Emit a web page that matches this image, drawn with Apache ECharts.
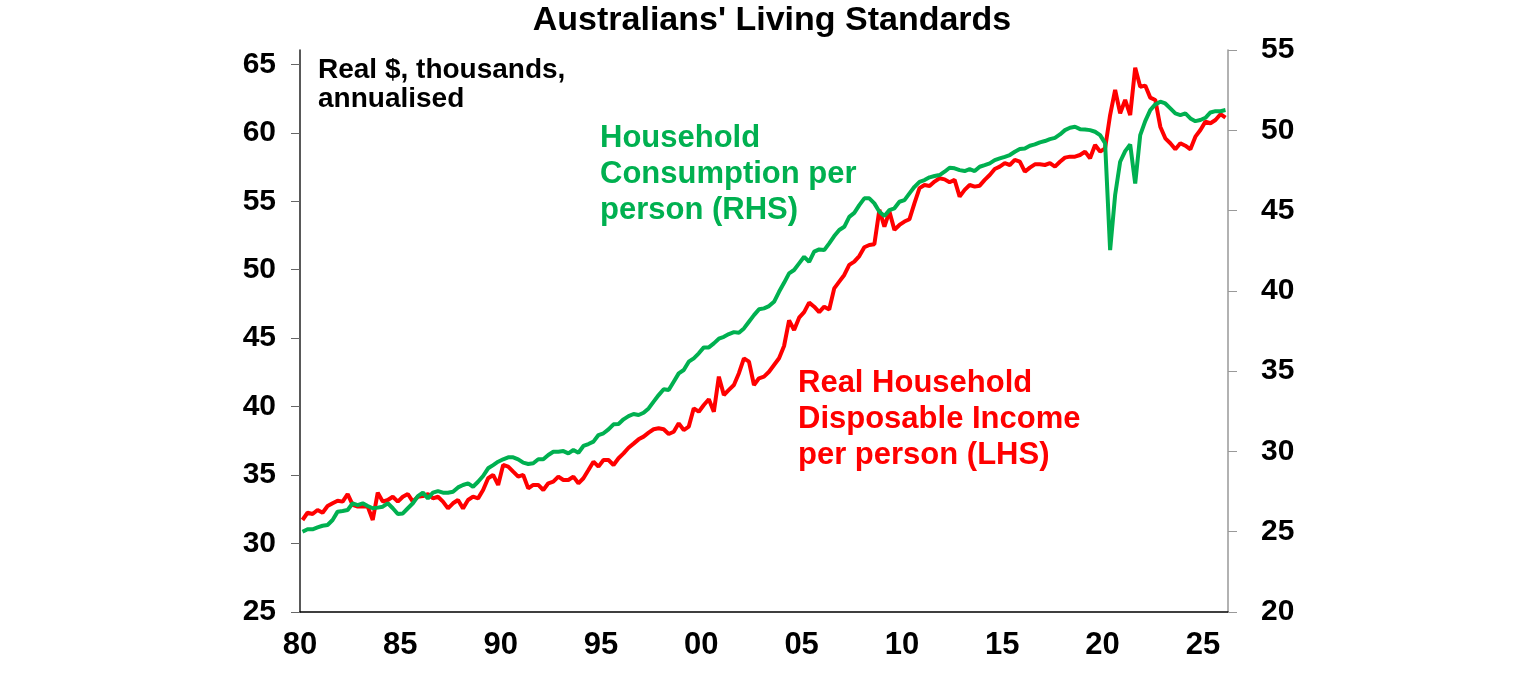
<!DOCTYPE html>
<html>
<head>
<meta charset="utf-8">
<script src="https://cdn.jsdelivr.net/npm/echarts@6/dist/echarts.min.js"></script>
<style>
  html, body { margin: 0; padding: 0; background: #fff; }
  #myCharts { width: 1536px; height: 680px; }
</style>
</head>
<body>
<div id="myCharts"></div>
<script>
// quarterly, first quarter of 1980 onwards
const startYear = 1980.125;
// Real household disposable income per person, $000 (LHS)
const income = [
  31.72, 32.25, 32.16, 32.45, 32.25, 32.74, 32.94, 33.13, 33.06, 33.62, 32.82, 32.70, 32.70, 32.70, 31.72, 33.72,
  33.06, 33.18, 33.42, 33.06, 33.42, 33.62, 33.06, 33.42, 33.47, 33.62, 33.30, 33.42, 33.06, 32.57, 32.94, 33.18,
  32.57, 33.18, 33.43, 33.30, 33.91, 34.77, 35.01, 34.28, 35.74, 35.62, 35.25, 34.89, 35.01, 34.03, 34.28, 34.28,
  33.91, 34.40, 34.52, 34.89, 34.64, 34.64, 34.89, 34.40, 34.77, 35.37, 35.98, 35.62, 36.10, 36.10, 35.74, 36.23,
  36.59, 37.00, 37.30, 37.61, 37.81, 38.10, 38.35, 38.42, 38.35, 38.00, 38.17, 38.78, 38.29, 38.54, 39.88, 39.63,
  40.12, 40.54, 39.63, 42.19, 40.85, 41.22, 41.58, 42.44, 43.53, 43.29, 41.58, 42.07, 42.19, 42.55, 43.04, 43.53,
  44.43, 46.30, 45.60, 46.50, 46.90, 47.60, 47.30, 46.90, 47.30, 47.10, 48.64, 49.13, 49.62, 50.35, 50.59, 51.00,
  51.64, 51.81, 51.86, 54.37, 53.15, 54.25, 52.91, 53.27, 53.52, 53.69, 54.86, 55.96, 56.19, 56.12, 56.44, 56.68,
  56.60, 56.39, 56.56, 55.34, 55.83, 56.19, 56.07, 56.14, 56.56, 56.92, 57.36, 57.53, 57.78, 57.65, 58.02, 57.89,
  57.16, 57.46, 57.70, 57.70, 57.65, 57.78, 57.53, 57.89, 58.19, 58.26, 58.26, 58.38, 58.63, 58.14, 59.11, 58.63,
  58.87, 61.30, 63.13, 61.43, 62.40, 61.30, 64.76, 63.37, 63.45, 62.57, 62.40, 60.45, 59.60, 59.24, 58.80, 59.24,
  59.06, 58.80, 59.72, 60.21, 60.82, 60.70, 60.94, 61.36, 61.11
];
// Household consumption per person, $000 (RHS)
const consumption = [
  25.00, 25.15, 25.15, 25.27, 25.37, 25.42, 25.73, 26.25, 26.29, 26.35, 26.77, 26.66, 26.77, 26.60, 26.46, 26.50,
  26.56, 26.77, 26.46, 26.10, 26.14, 26.46, 26.77, 27.22, 27.43, 27.08, 27.43, 27.53, 27.43, 27.43, 27.49, 27.76,
  27.91, 28.01, 27.80, 28.11, 28.47, 28.95, 29.15, 29.36, 29.51, 29.63, 29.63, 29.51, 29.30, 29.22, 29.26, 29.51,
  29.51, 29.78, 29.98, 29.98, 30.02, 29.88, 30.09, 29.92, 30.34, 30.46, 30.61, 31.02, 31.13, 31.37, 31.69, 31.71,
  32.00, 32.20, 32.33, 32.27, 32.41, 32.68, 33.10, 33.51, 33.87, 33.82, 34.34, 34.86, 35.07, 35.59, 35.80, 36.11,
  36.48, 36.48, 36.73, 37.02, 37.14, 37.31, 37.43, 37.39, 37.66, 38.08, 38.49, 38.85, 38.91, 39.05, 39.32, 39.94,
  40.50, 41.09, 41.30, 41.71, 42.12, 41.81, 42.44, 42.58, 42.54, 42.96, 43.41, 43.79, 43.99, 44.61, 44.86, 45.34,
  45.76, 45.76, 45.45, 44.93, 44.66, 45.03, 45.14, 45.55, 45.65, 46.07, 46.48, 46.79, 46.90, 47.07, 47.15, 47.21,
  47.42, 47.67, 47.63, 47.52, 47.46, 47.58, 47.46, 47.73, 47.83, 47.94, 48.14, 48.25, 48.35, 48.46, 48.66, 48.83,
  48.87, 49.04, 49.12, 49.25, 49.33, 49.45, 49.53, 49.74, 50.01, 50.16, 50.22, 50.07, 50.05, 50.01, 49.91, 49.70,
  49.20, 42.54, 45.97, 48.04, 48.70, 49.12, 46.69, 49.70, 50.57, 51.26, 51.61, 51.78, 51.67, 51.36, 51.05, 50.95,
  51.05, 50.74, 50.57, 50.64, 50.78, 51.11, 51.19, 51.19, 51.26
];
const xTicks = [1980, 1985, 1990, 1995, 2000, 2005, 2010, 2015, 2020, 2025];
const leftTicks = [25, 30, 35, 40, 45, 50, 55, 60, 65];
const rightTicks = [20, 25, 30, 35, 40, 45, 50, 55];

const font = "'Liberation Sans', Arial, sans-serif";
const toPairs = arr => arr.map((v, i) => [startYear + i * 0.25, v]);

const labelStyle = {
  fontFamily: font,
  fontSize: 30,
  fontWeight: "bold",
  color: "#000",
};

let option = {
  animation: false,
  backgroundColor: "#fff",
  grid: { left: 300, right: 308, top: 50, bottom: 68 },
  xAxis: {
    type: "value",
    min: 1980,
    max: 2026.25,
    splitLine: { show: false },
    axisTick: { show: false },
    axisLine: { lineStyle: { color: "#000", width: 1.5 } },
    axisLabel: {
      ...labelStyle,
      fontSize: 31,
      margin: 18,
      customValues: xTicks,
      formatter: v => String(v % 100).padStart(2, "0"),
    },
  },
  yAxis: [
    {
      type: "value",
      position: "left",
      min: 25,
      max: 66.05,
      splitLine: { show: false },
      axisLine: { show: true, lineStyle: { color: "#222", width: 1.5 } },
      axisTick: { show: true, length: 9, customValues: leftTicks, lineStyle: { color: "#666" } },
      axisLabel: { ...labelStyle, margin: 24, customValues: leftTicks },
    },
    {
      type: "value",
      position: "right",
      min: 20,
      max: 55,
      interval: 5,
      splitLine: { show: false },
      axisLine: { show: true, lineStyle: { color: "#999", width: 1.5 } },
      axisTick: { show: true, length: 9, customValues: rightTicks, lineStyle: { color: "#999" } },
      axisLabel: { ...labelStyle, margin: 33, customValues: rightTicks },
    },
  ],
  series: [
    {
      name: "Real Household Disposable Income per person (LHS)",
      type: "line",
      yAxisIndex: 0,
      showSymbol: false,
      lineStyle: { color: "#FF0000", width: 4 },
      data: toPairs(income),
    },
    {
      name: "Household Consumption per person (RHS)",
      type: "line",
      yAxisIndex: 1,
      showSymbol: false,
      lineStyle: { color: "#00B050", width: 4 },
      data: toPairs(consumption),
    },
  ],
  graphic: [
    {
      type: "text",
      x: 772,
      y: 4,
      style: {
        text: "Australians' Living Standards",
        font: "bold 34px " + font,
        fill: "#000",
        align: "center",
        verticalAlign: "top",
      },
    },
    {
      type: "text",
      x: 318,
      y: 56,
      style: {
        text: "Real $, thousands,\nannualised",
        font: "bold 28px " + font,
        lineHeight: 29,
        fill: "#000",
      },
    },
    {
      type: "text",
      x: 600,
      y: 120,
      style: {
        text: "Household\nConsumption per\nperson (RHS)",
        font: "bold 31px " + font,
        lineHeight: 36,
        fill: "#00B050",
      },
    },
    {
      type: "text",
      x: 798,
      y: 365,
      style: {
        text: "Real Household\nDisposable Income\nper person (LHS)",
        font: "bold 31px " + font,
        lineHeight: 36,
        fill: "#FF0000",
      },
    },
  ],
};

let myChart = echarts.init(document.getElementById("myCharts"));
myChart.setOption(option);
</script>
</body>
</html>
